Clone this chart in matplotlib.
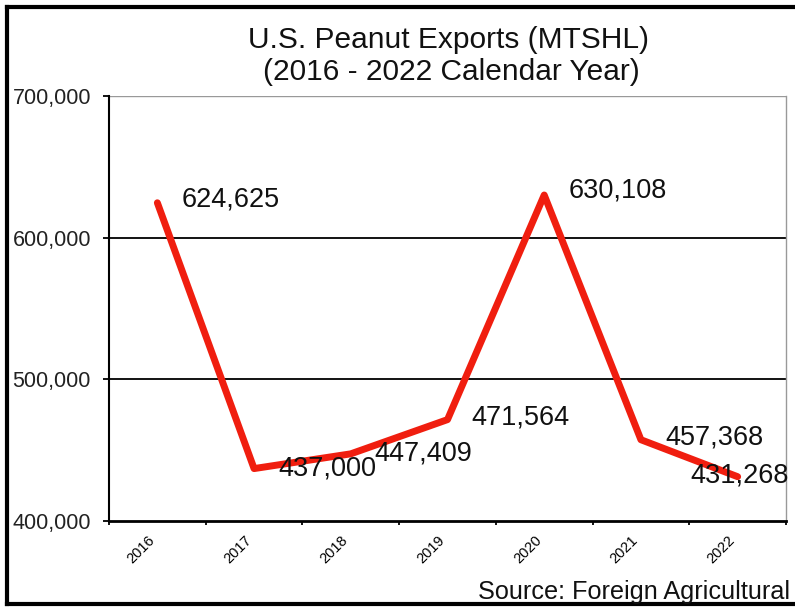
import numpy as np
import matplotlib.pyplot as plt
from matplotlib.lines import Line2D

plt.rcParams['font.family'] = ['Liberation Sans', 'DejaVu Sans']

years = ['2016', '2017', '2018', '2019', '2020', '2021', '2022']
exports = [624625, 437000, 447409, 471564, 630108, 457368, 431268]
yticks = [400000, 500000, 600000, 700000]

# label offsets in pixels (last one pulled left, like the original)
label_dx = [24, 24, 24, 24, 24, 24, -47]
label_dy = [3, 0, 0, 2, 5, 2, 1]

fig = plt.figure(figsize=(7.95, 6.09), dpi=100)
ax = fig.add_axes([109/795, 1-521/609, (786-109)/795, (521-96)/609])

x = np.arange(len(years))
ax.plot(x, exports, color='#f01e0f', lw=5, solid_capstyle='round',
        solid_joinstyle='round', zorder=3)

for i, v in enumerate(exports):
    ax.annotate(f'{v:,}', (x[i], v), xytext=(label_dx[i], label_dy[i]),
                textcoords='offset pixels', ha='left', va='center',
                fontsize=19.5, color='#111111', zorder=4)

ax.set_xlim(-0.5, len(years) - 0.5)
ax.set_ylim(400000, 700000)

# gridlines
for t in yticks[1:3]:
    ax.axhline(t, color='black', lw=1.3, zorder=1)
ax.axhline(700000, color='#999999', lw=1, zorder=1)

ax.set_yticks(yticks)
ax.set_yticklabels([f'{t:,}' for t in yticks], fontsize=15.5, color='#222222')
ax.tick_params(axis='y', direction='out', length=4, width=1.3, pad=9)

ax.set_xticks(np.arange(len(years) + 1) - 0.5)
ax.set_xticklabels([])
ax.tick_params(axis='x', which='major', direction='out', length=3, width=1.3)
ax.set_xticks(x, minor=True)
ax.set_xticklabels(years, minor=True, rotation=45, ha='right', va='top',
                   fontsize=10.5)
ax.tick_params(axis='x', which='minor', length=0, pad=9)

ax.spines['top'].set_visible(False)
ax.spines['right'].set_color('#999999')
ax.spines['right'].set_linewidth(1)
ax.spines['left'].set_linewidth(1.5)
ax.spines['bottom'].set_linewidth(2)

fig.text(449/795, 1-40/609, 'U.S. Peanut Exports (MTSHL)', ha='center',
         va='center', fontsize=21.5, color='#111111')
fig.text(451/795, 1-72/609, '(2016 - 2022 Calendar Year)', ha='center',
         va='center', fontsize=21.5, color='#111111')
fig.text(478/795, 1-592/609, 'Source: Foreign Agricultural', ha='left',
         va='center', fontsize=18.2, color='#111111')

# outer frame of the scanned chart
for xs, ys in [((7, 7), (7, 604)), ((7, 795), (7, 7)), ((7, 795), (604, 604))]:
    fig.add_artist(Line2D([a/795 for a in xs], [1-b/609 for b in ys],
                          color='black', lw=3))

fig.savefig('out.png', dpi=100)
